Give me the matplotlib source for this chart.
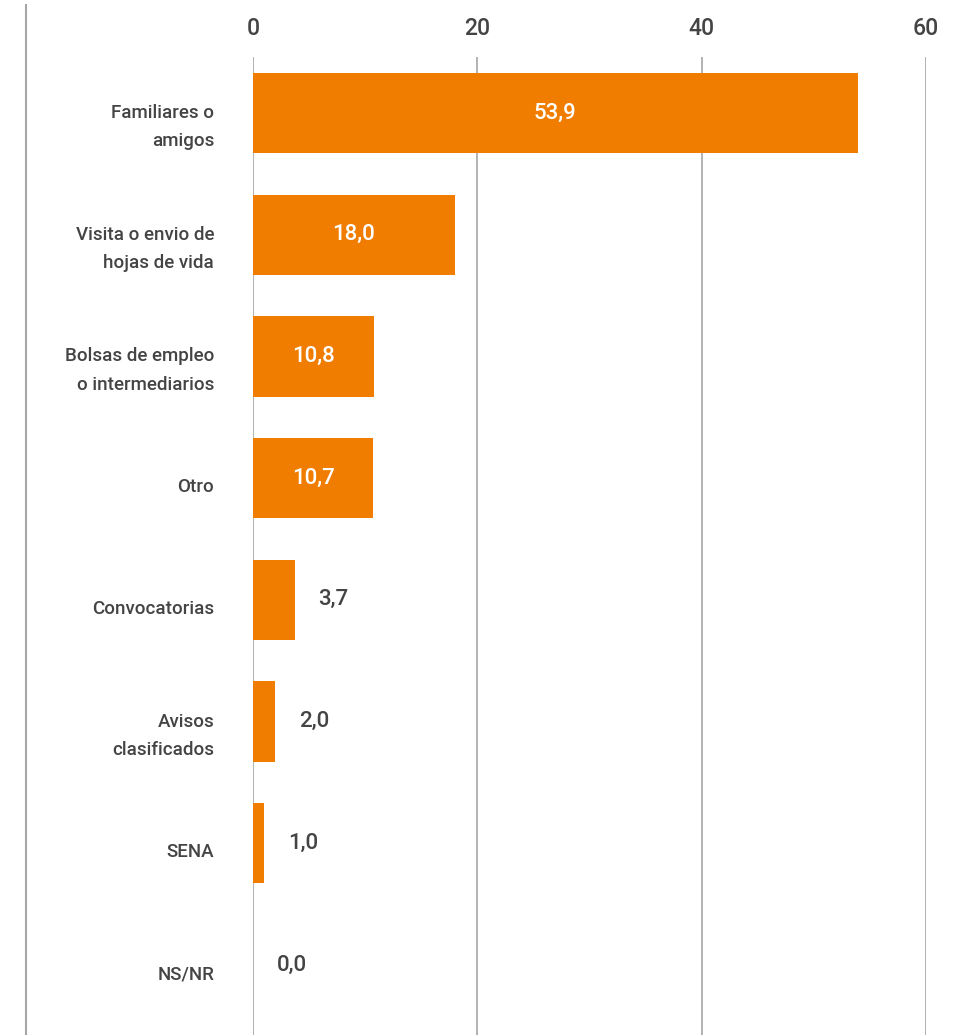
import matplotlib.pyplot as plt
from matplotlib.lines import Line2D
from matplotlib.transforms import ScaledTranslation

# data
categories = ['Familiares o\namigos', 'Visita o envio de\nhojas de vida',
              'Bolsas de empleo\no intermediarios', 'Otro', 'Convocatorias',
              'Avisos\nclasificados', 'SENA', 'NS/NR']
values = [53.9, 18.0, 10.8, 10.7, 3.7, 2.0, 1.0, 0.0]
ticks = [0, 20, 40, 60]

orange = '#F07D00'
text_col = '#444444'
grid_col = '#a6a6a6'

plt.rcParams['font.family'] = ['Roboto', 'DejaVu Sans']

fig = plt.figure(figsize=(9.61, 10.35), dpi=100)
ax = fig.add_axes([253 / 961, 0, (926 - 253) / 961, 1 - 57 / 1035])

y = list(range(len(categories)))
ax.barh(y, values, height=0.66, color=orange, zorder=2)

ax.set_xlim(0, 60)
ax.set_ylim(7.575, -0.46)
ax.set_xticks(ticks)
ax.set_xticklabels([str(t) for t in ticks], fontsize=16.5, color=text_col,
                   fontweight='medium')
ax.xaxis.tick_top()
ax.tick_params(axis='x', length=0, pad=12)
ax.set_yticks(y)
ax.set_yticklabels(categories, fontsize=13.5, color=text_col, linespacing=1.75,
                   fontweight='medium')
ax.tick_params(axis='y', length=0, pad=28)
# labels sit a bit below the bar centres in the original
shift = ScaledTranslation(0, -7 / 100, fig.dpi_scale_trans)
for t in ax.get_yticklabels():
    t.set_transform(t.get_transform() + shift)
ax.grid(axis='x', color=grid_col, linewidth=1.2, zorder=1)
for s in ax.spines.values():
    s.set_visible(False)

for yi, v in zip(y, values):
    lab = f'{v:.1f}'.replace('.', ',')
    if v >= 10:
        ax.text(v / 2, yi, lab, ha='center', va='center', color='white',
                fontsize=16, fontweight='medium', zorder=3)
    else:
        ax.annotate(lab, (v, yi), xytext=(17, 0), textcoords='offset points',
                    ha='left', va='center', color=text_col, fontsize=16,
                    fontweight='medium')

# left frame line
fig.add_artist(Line2D([26 / 961, 26 / 961], [0, 1 - 5 / 1035],
                      transform=fig.transFigure, color=grid_col, linewidth=1.5))

fig.savefig('out.png', dpi=100)
